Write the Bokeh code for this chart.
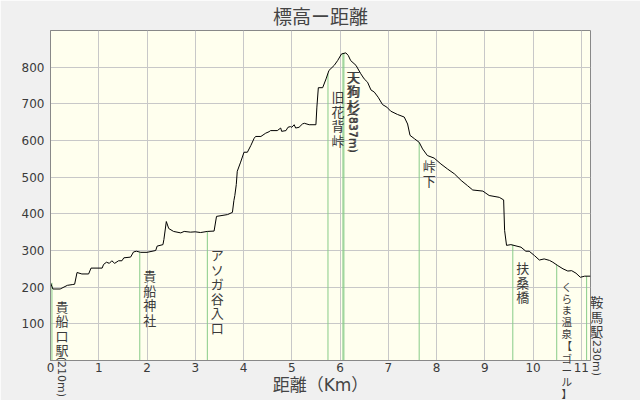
import math
from bokeh.plotting import figure
from bokeh.models import Range1d, FixedTicker, Label
from bokeh.embed import file_html
from bokeh.resources import INLINE

# ---- data ----
dist = [0.0, 0.05, 0.2, 0.35, 0.45, 0.5, 0.55, 0.65, 0.79, 0.84, 1.07, 1.1, 1.16, 1.22, 1.27,
        1.33, 1.41, 1.48, 1.52, 1.66, 1.72, 1.78, 1.87, 2.0, 2.18, 2.21, 2.33, 2.35, 2.40, 2.45,
        2.55, 2.70, 2.77, 2.9, 3.0, 3.11, 3.25, 3.39, 3.44, 3.67, 3.77, 3.80, 3.82, 3.85, 3.87,
        3.94, 4.01, 4.08, 4.15, 4.22, 4.25, 4.36, 4.46, 4.53, 4.56, 4.70, 4.77, 4.79, 4.88, 4.92,
        4.97, 5.0, 5.05, 5.08, 5.15, 5.22, 5.26, 5.36, 5.50, 5.52, 5.55, 5.64, 5.71, 5.77, 5.88,
        5.95, 6.03, 6.12, 6.17, 6.22, 6.33, 6.43, 6.50, 6.57, 6.64, 6.71, 6.79, 6.88, 6.97, 7.05,
        7.19, 7.33, 7.40, 7.45, 7.54, 7.64, 7.71, 7.81, 7.95, 8.09, 8.23, 8.37, 8.51, 8.64, 8.75,
        8.96, 9.09, 9.30, 9.39, 9.41, 9.45, 9.54, 9.75, 9.85, 9.92, 10.03, 10.13, 10.23, 10.34,
        10.41, 10.51, 10.62, 10.72, 10.80, 10.89, 10.98, 11.07, 11.19]
elev = [212, 195, 195, 205, 207, 208, 240, 236, 236, 252, 252, 262, 268, 265, 272,
        265, 272, 272, 280, 282, 296, 298, 295, 295, 300, 312, 316, 330, 379, 360,
        352, 348, 352, 350, 351, 349, 352, 353, 393, 398, 404, 436, 450, 480, 516,
        541, 568, 568, 586, 606, 611, 611, 620, 624, 627, 627, 634, 625, 627, 636,
        638, 636, 643, 634, 636, 645, 647, 643, 643, 691, 744, 744, 768, 791, 805,
        818, 836, 839, 832, 818, 805, 782, 768, 759, 738, 732, 718, 698, 691, 680,
        671, 664, 645, 614, 605, 595, 577, 559, 552, 536, 522, 509, 491, 477, 465,
        462, 450, 445, 438, 355, 314, 316, 309, 298, 298, 286, 274, 277, 273,
        268, 259, 250, 244, 245, 238, 227, 230, 230]

point_names = ["貴船口駅(210m)", "貴船神社", "アソガ谷入口", "旧花背峠", "天狗杉(837m)",
               "天狗杉(837m)", "峠下", "扶桑橋", "くらま温泉【ゴール】", "鞍馬駅(230m)"]
point_dist = [0.03, 1.85, 3.25, 5.75, 6.06, 6.08, 7.64, 9.58, 10.49, 11.11]
point_elev = [212, 295, 352, 783, 838, 839, 595, 316, 262, 230]

x_ticks = list(range(0, 12))
y_ticks = [100, 200, 300, 400, 500, 600, 700, 800]

X_MAX, Y_MAX = 11.19, 900
FRAME_W, FRAME_H = 540, 330
BOTTOM_ROOM = 38          # px below the plot area that a label may still use

FONT = "Noto Sans CJK JP"
NUMFONT = "DejaVu Sans"
TXT = "#3a3a3a"

p = figure(width=640, height=400, output_backend="svg", toolbar_location=None,
           x_range=Range1d(0, X_MAX), y_range=Range1d(0, Y_MAX),
           min_border_left=50, min_border_right=50, min_border_top=30, min_border_bottom=40,
           title="標高ー距離")
p.title.align = "center"
p.title.vertical_align = "top"
p.title.text_font = FONT
p.title.text_font_size = "19px"
p.title.text_font_style = "normal"
p.title.text_color = "#444444"
p.title.standoff = 0

p.border_fill_color = "#f0f0f0"
p.background_fill_color = "#ffffee"
p.outline_line_color = "#888888"

p.xaxis.ticker = FixedTicker(ticks=x_ticks)
p.yaxis.ticker = FixedTicker(ticks=y_ticks)
p.xaxis.axis_label = "距離（Km）"
for ax in (p.xaxis[0], p.yaxis[0]):
    ax.major_tick_line_color = None
    ax.minor_tick_line_color = None
    ax.major_tick_out = 0
    ax.major_tick_in = 0
    ax.axis_line_color = "#888888"
    ax.major_label_text_font = NUMFONT
    ax.major_label_text_font_size = "12px"
    ax.major_label_text_color = TXT
p.xaxis.major_label_standoff = 2
p.yaxis.major_label_standoff = 6
p.xaxis.axis_label_standoff = 0
p.xaxis.axis_label_text_font = NUMFONT + ", " + FONT
p.xaxis.axis_label_text_font_size = "17px"
p.xaxis.axis_label_text_font_style = "normal"
p.xaxis.axis_label_text_color = "#444444"

p.xgrid.ticker = FixedTicker(ticks=x_ticks)
p.ygrid.ticker = FixedTicker(ticks=y_ticks)
p.grid.grid_line_color = "#c8c8c8"

# marker lines
p.segment(x0=point_dist, y0=[0] * len(point_dist), x1=point_dist, y1=point_elev,
          line_color="#88cc88", line_width=1)

# profile
p.line(dist, elev, line_color="black", line_width=1)

# ---- vertical point labels ----
# Characters inside the plot area are placed one by one; pieces that run past the
# plot area go to a side panel (annotations there are not clipped to the plot area).
STEP = 14.5      # vertical advance of a CJK character at 13px, px
START = 16.0     # gap between the top of a marker line and its label, px
XOFF = 10.0      # label column offset right of the marker line, px
LATIN_EM = {"(": 0.39, ")": 0.39, "m": 0.974}   # DejaVu Sans advance widths (em)


def latin_len(run, size):
    return sum(LATIN_EM.get(c, 0.636) for c in run) * size


def cjk_label(xd, yd, chars, off, side, step, size):
    if side is None:
        for ch in chars:
            p.add_layout(Label(x=xd, y=yd, text=ch, x_offset=XOFF, y_offset=-(off + step / 2),
                               text_font=FONT, text_font_size=f"{size:.1f}px", text_color=TXT,
                               text_align="center", text_baseline="middle"))
            off += step
    else:
        p.add_layout(Label(x=xd, y=yd, text="\n".join(chars), x_offset=XOFF, y_offset=-off,
                           text_font=FONT, text_font_size=f"{size:.1f}px", text_color=TXT,
                           text_line_height=step / (size * 1.448),
                           text_align="center", text_baseline="top"),
                     side)


for name, xd, yd in zip(point_names, point_dist, point_elev):
    px = xd / X_MAX * FRAME_W + XOFF            # label column, px from frame left
    top = (1 - yd / Y_MAX) * FRAME_H            # marker top, px from frame top
    side_out = "left" if px < FRAME_W / 2 else "right"
    n_cjk = sum(1 for c in name if ord(c) >= 128)
    latin = "".join(c for c in name if ord(c) < 128)
    need = n_cjk * STEP + latin_len(latin, 11)
    avail = FRAME_H + BOTTOM_ROOM - top - START
    scale = min(1.0, avail / need)
    step, size, lsize = STEP * scale, 13 * scale, 11 * scale

    off = START
    inside, outside = [], []
    i = 0
    while i < len(name):
        ch = name[i]
        if ord(ch) < 128:
            # run of latin characters: one label rotated as in vertical writing
            j = i
            while j < len(name) and ord(name[j]) < 128:
                j += 1
            run = name[i:j]
            length = latin_len(run, lsize)
            clipped = px + 8 > FRAME_W or top + off + length > FRAME_H + 1
            p.add_layout(Label(x=xd, y=yd, text=run, x_offset=XOFF, y_offset=-off,
                               angle=-math.pi / 2, text_font=NUMFONT,
                               text_font_size=f"{lsize:.1f}px", text_color=TXT,
                               text_align="left", text_baseline="middle"),
                         side_out if clipped else "center")
            off += length
            i = j
            continue
        clipped = px + 8 > FRAME_W or top + off + step > FRAME_H + 1
        (outside if clipped else inside).append((ch, off))
        off += step
        i += 1
    if inside:
        cjk_label(xd, yd, [c for c, _ in inside], inside[0][1], None, step, size)
    if outside:
        cjk_label(xd, yd, [c for c, _ in outside], outside[0][1], side_out, step, size)

open("out.html", "w").write(file_html(p, INLINE))
